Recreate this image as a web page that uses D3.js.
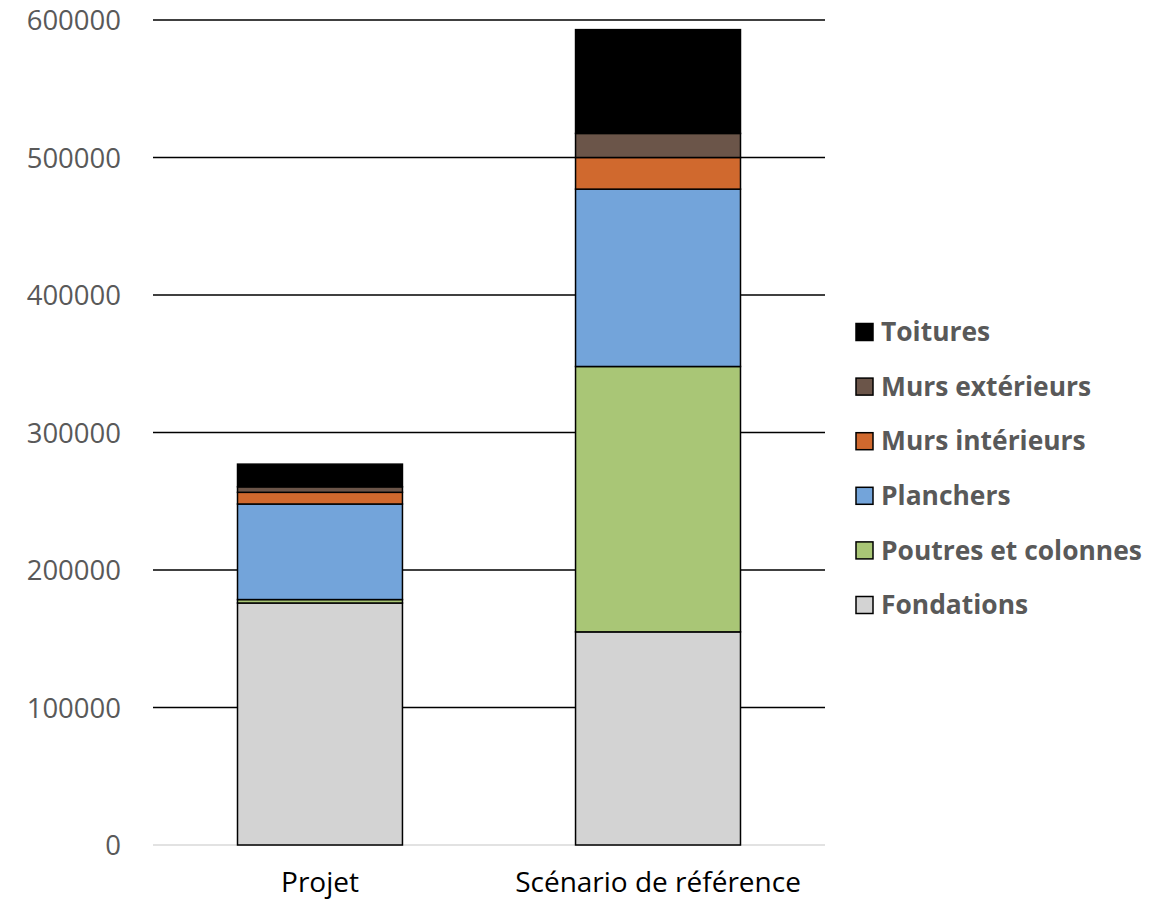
<!DOCTYPE html>
<html>
<head>
<meta charset="utf-8">
<script src="https://cdn.jsdelivr.net/npm/d3@7"></script>
<style>
  html, body { margin: 0; padding: 0; background: #fff; }
  svg { display: block; font-family: "Open Sans", "Noto Sans", sans-serif; }
</style>
</head>
<body>
<svg id="chart" width="1168" height="899"></svg>
<script>
// Categories (x axis)
const categories = ["Projet", "Scénario de référence"];

// Stack order, bottom to top
const seriesNames = ["Fondations", "Poutres et colonnes", "Planchers", "Murs intérieurs", "Murs extérieurs", "Toitures"];
const seriesColors = ["#d3d3d3", "#a9c676", "#73a4da", "#d0692e", "#6b5549", "#000000"];

// Values per series, one per category
const fondations        = [176000, 155000];
const poutresColonnes   = [2500, 193000];
const planchers         = [69500, 129000];
const mursInterieurs    = [8500, 23000];
const mursExterieurs    = [4000, 17500];
const toitures          = [16500, 75500];

const yTicks = [0, 100000, 200000, 300000, 400000, 500000, 600000];

const seriesValues = [fondations, poutresColonnes, planchers, mursInterieurs, mursExterieurs, toitures];
const rows = categories.map((c, i) => {
  const r = { category: c };
  seriesNames.forEach((s, j) => { r[s] = seriesValues[j][i]; });
  return r;
});

const svg = d3.select("#chart");
const plotLeft = 153, plotRight = 825, plotTop = 20, plotBottom = 845;

const x = d3.scaleBand().domain(categories).range([plotLeft, plotRight]).paddingInner(0.512).paddingOuter(0.25);
const y = d3.scaleLinear().domain([0, 600000]).range([plotBottom, plotTop]);

const textColor = "#595959";

// Gridlines
svg.append("g").selectAll("line").data(yTicks).join("line")
  .attr("x1", plotLeft).attr("x2", plotRight)
  .attr("y1", d => y(d)).attr("y2", d => y(d))
  .attr("stroke", d => d === 0 ? "#d9d9d9" : "#000")
  .attr("stroke-width", 1.5);

// Y axis labels
const yAxis = d3.axisLeft(y).tickValues(yTicks).tickFormat(d3.format("d")).tickSize(0).tickPadding(0);
const yg = svg.append("g").attr("transform", `translate(${plotLeft - 32},0)`).call(yAxis);
yg.select(".domain").remove();
yg.selectAll("text").attr("fill", textColor).style("font-size", "27.5px")
  .style("font-family", "'Open Sans', sans-serif").attr("dy", "0.35em");

// Stacked bars
const stack = d3.stack().keys(seriesNames);
const stacked = stack(rows);

svg.append("g").selectAll("g").data(stacked).join("g")
  .attr("fill", (d, i) => seriesColors[i])
  .selectAll("rect").data(d => d).join("rect")
  .attr("x", d => x(d.data.category))
  .attr("width", x.bandwidth())
  .attr("y", d => y(d[1]))
  .attr("height", d => y(d[0]) - y(d[1]))
  .attr("stroke", "#000")
  .attr("stroke-width", 1.5);

// X axis labels
const xAxis = d3.axisBottom(x).tickSize(0).tickPadding(0);
const xg = svg.append("g").attr("transform", `translate(0,${plotBottom + 22})`).call(xAxis);
xg.select(".domain").remove();
xg.selectAll("text").attr("fill", "#000").style("font-size", "28px")
  .style("font-family", "'Open Sans', sans-serif").attr("dy", "0.9em");

// Legend (top entry = top of stack)
const legendItems = seriesNames.map((s, i) => ({ name: s, color: seriesColors[i] })).reverse();
const legend = svg.append("g");
const lg = legend.selectAll("g").data(legendItems).join("g")
  .attr("transform", (d, i) => `translate(856, ${332 + i * 54.6})`);
lg.append("rect")
  .attr("x", 0).attr("y", -8.5).attr("width", 17).attr("height", 17)
  .attr("fill", d => d.color).attr("stroke", "#000").attr("stroke-width", 1.5);
lg.append("text")
  .attr("x", 25).attr("y", 0).attr("dy", "0.35em")
  .attr("fill", textColor).style("font-size", "26.4px").style("font-weight", "bold")
  .text(d => d.name);
</script>
</body>
</html>
